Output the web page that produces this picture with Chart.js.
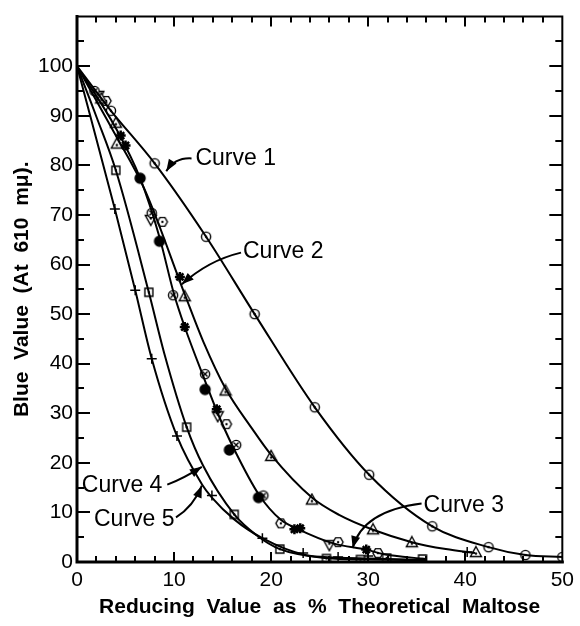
<!doctype html>
<html>

<head>
    <title>Blue Value</title>
    <script src="https://cdn.jsdelivr.net/npm/chart.js"></script>
    <style>
        body { margin: 0; background: #fff; }
    </style>
</head>

<body>
    <canvas id="grafico" width="580" height="626"></canvas>

    <script>
        // smooth curves: [reducing value %, blue value]
        const curve1Line = [[0, 100], [3.5, 91], [8, 80.4], [13.3, 65.6], [18.3, 50], [24.5, 31.2], [30.1, 17.6], [36.6, 7.2], [42.4, 3], [46.2, 1.4], [50, 1]]
        const curve2Line = [[0, 100], [4, 86], [7, 75], [11.1, 54], [13, 44.5], [15.3, 35], [18, 27], [20, 21.6], [24.2, 13], [27, 9.5], [30.5, 6.5], [34.5, 4], [38, 2.6], [41, 1.8]]
        const curve3Line = [[0, 100], [4, 87.5], [6.5, 77.4], [8.5, 65.5], [10, 54], [11.1, 47.4], [13.2, 36.5], [14.5, 30], [16, 23.5], [18.8, 13.4], [21, 8.5], [22.6, 6.8], [26.5, 3.7], [29.8, 2.5], [31.5, 1.6], [36, 0.6]]
        const curve4Line = [[0, 100], [2, 89.8], [4, 79], [7.4, 54.4], [9, 42], [11.3, 27.2], [13, 19.4], [16.2, 9.6], [18.5, 5.4], [20.9, 2.6], [25.7, 0.8], [30, 0.5], [36, 0.4]]
        const curve5Line = [[0, 100], [3.9, 71.2], [6, 54.8], [7.7, 41], [10.3, 25.4], [12.9, 15.6], [13.9, 13], [16.2, 8.6], [19.1, 4.8], [23.5, 1.4], [26.7, 0.9], [30, 0.7], [36, 0.4]]

        // plotted samples, grouped by marker
        const dotCirclePts = [[3.5, 91], [8, 80.4], [13.3, 65.6], [18.3, 50], [24.5, 31.2], [30.1, 17.6], [36.6, 7.2], [42.4, 3], [46.2, 1.4], [50, 1]]
        const trianglePts = [[2.5, 93.5], [4, 88.6], [4.1, 84.4], [11.1, 53.6], [15.3, 34.6], [20, 21.4], [24.2, 12.6], [30.5, 6.6], [34.5, 4], [41.1, 2]]
        const filledPts = [[6.5, 77.4], [8.5, 64.7], [13.2, 34.8], [15.7, 22.6], [18.7, 13]]
        const crossCirclePts = [[1.8, 95], [7.7, 70.4], [9.9, 53.8], [13.2, 37.9], [16.4, 23.6], [19.2, 13.4]]
        const hexagonPts = [[3, 93], [8.8, 68.6], [15.4, 27.8], [21, 7.8], [26.9, 4], [31, 1.8]]
        const starPts = [[4.5, 86], [5, 84], [10.6, 57.5], [11.1, 47.4], [14.4, 30.8], [22.4, 6.6], [23, 6.8], [29.8, 2.5]]
        const invTrianglePts = [[2.2, 94], [7.6, 69], [14.5, 29.4], [26, 3.4]]
        const squarePts = [[4, 79], [7.4, 54.4], [11.3, 27.2], [16.2, 9.6], [20.9, 2.6], [25.7, 0.7], [29.2, 0.5], [31.9, 0.8], [35.6, 0.6]]
        const plusPts = [[3.9, 71.2], [6, 54.8], [7.7, 41], [10.3, 25.4], [13.9, 13.4], [19.1, 4.8], [23.3, 1.8], [26.9, 1], [30, 1.2], [40.2, 2]]

        // curve labels and their arrows, in data units
        const curveNames = ['Curve 1', 'Curve 2', 'Curve 3', 'Curve 4', 'Curve 5']
        const nameAt = [[12.2, 81.4], [17.1, 62.6], [35.7, 11.4], [0.5, 15.4], [1.75, 8.6]]
        const arrowFrom = [[11.8, 81.4], [16.9, 62.4], [35.5, 11.8], [9.3, 15.6], [10.2, 9]]
        const arrowBend = [[10.1, 81.6], [13.5, 60.8], [29.4, 10.3], [11.1, 17], [12, 11.2]]
        const arrowTip = [[9.2, 78.8], [10.8, 56], [28.4, 2.8], [12.86, 19.2], [12.86, 15.4]]

        const fonte = '"Liberation Sans", Arial, sans-serif'

        function pontos(lista) {
            return lista.map(p => ({ x: p[0], y: p[1] }))
        }

        function marcador(tipo) {
            const c = document.createElement('canvas')
            c.width = 14
            c.height = 14
            const g = c.getContext('2d')
            g.lineWidth = 1.4
            g.strokeStyle = '#000'
            g.fillStyle = '#fff'
            g.beginPath()
            if (tipo == 'circulo' || tipo == 'cruz') {
                g.arc(7, 7, 4.6, 0, 2 * Math.PI)
            } else if (tipo == 'cheio') {
                g.fillStyle = '#000'
                g.arc(7, 7, 5, 0, 2 * Math.PI)
            } else if (tipo == 'quadrado') {
                g.rect(3, 3, 8, 8)
            } else if (tipo == 'hexagono') {
                for (let i = 0; i < 6; i++) {
                    const a = Math.PI / 3 * i
                    g.lineTo(7 + 5 * Math.cos(a), 7 + 5 * Math.sin(a))
                }
                g.closePath()
            } else if (tipo == 'triangulo') {
                g.moveTo(7, 1.5); g.lineTo(12.5, 11.5); g.lineTo(1.5, 11.5); g.closePath()
            } else if (tipo == 'invertido') {
                g.moveTo(7, 12.5); g.lineTo(12.5, 2.5); g.lineTo(1.5, 2.5); g.closePath()
            }
            g.fill()
            g.stroke()
            if (tipo == 'cruz') {
                g.beginPath()
                g.moveTo(4.5, 4.5); g.lineTo(9.5, 9.5); g.moveTo(9.5, 4.5); g.lineTo(4.5, 9.5)
                g.stroke()
            } else if (tipo != 'cheio') {
                g.fillStyle = '#000'
                g.beginPath()
                g.arc(7, tipo == 'triangulo' ? 8.5 : (tipo == 'invertido' ? 5.5 : 7), 1.2, 0, 2 * Math.PI)
                g.fill()
            }
            return c
        }

        function curva(lista) {
            return {
                data: pontos(lista),
                showLine: true,
                borderColor: '#000',
                borderWidth: 2,
                pointRadius: 0,
                cubicInterpolationMode: 'monotone'
            }
        }

        function amostras(lista, estilo, extra) {
            return Object.assign({
                data: pontos(lista),
                showLine: false,
                pointStyle: estilo,
                borderColor: '#000',
                backgroundColor: '#fff',
                pointRadius: 5
            }, extra || {})
        }

        const moldura = {
            id: 'moldura',
            afterDatasetsDraw(chart) {
                const { ctx, chartArea: { left, right, top, bottom }, scales: { x, y } } = chart
                ctx.save()
                ctx.strokeStyle = '#000'
                ctx.lineCap = 'square'

                ctx.lineWidth = 2
                ctx.beginPath()
                ctx.moveTo(left, top); ctx.lineTo(right, top); ctx.lineTo(right, bottom)
                ctx.stroke()
                ctx.lineWidth = 3
                ctx.beginPath()
                ctx.moveTo(left, top); ctx.lineTo(left, bottom); ctx.lineTo(right, bottom)
                ctx.stroke()

                ctx.lineWidth = 2
                ctx.lineCap = 'butt'
                ctx.beginPath()
                for (let v = 2; v < 50; v += 2) {
                    const px = Math.round(x.getPixelForValue(v))
                    const len = v % 10 == 0 ? 10 : 6
                    ctx.moveTo(px, bottom); ctx.lineTo(px, bottom - len)
                    ctx.moveTo(px, top); ctx.lineTo(px, top + len)
                }
                for (let v = 5; v < 110; v += 5) {
                    const py = Math.round(y.getPixelForValue(v))
                    const len = v % 10 == 0 ? 13 : 7
                    ctx.moveTo(left, py); ctx.lineTo(left + len, py)
                    ctx.moveTo(right, py); ctx.lineTo(right - len, py)
                }
                ctx.stroke()
                ctx.restore()
            }
        }

        const rotulos = {
            id: 'rotulos',
            afterDatasetsDraw(chart) {
                const { ctx, scales: { x, y } } = chart
                const px = p => [x.getPixelForValue(p[0]), y.getPixelForValue(p[1])]
                ctx.save()
                ctx.fillStyle = '#000'
                ctx.strokeStyle = '#000'
                ctx.font = '23px ' + fonte
                ctx.textBaseline = 'middle'
                curveNames.forEach((nome, i) => {
                    const [tx, ty] = px(nameAt[i])
                    ctx.fillText(nome, tx, ty)

                    const [ax, ay] = px(arrowFrom[i])
                    const [bx, by] = px(arrowBend[i])
                    const [cx, cy] = px(arrowTip[i])
                    ctx.lineWidth = 2
                    ctx.beginPath()
                    ctx.moveTo(ax, ay)
                    ctx.quadraticCurveTo(bx, by, cx, cy)
                    ctx.stroke()

                    const ang = Math.atan2(cy - by, cx - bx)
                    ctx.beginPath()
                    ctx.moveTo(cx, cy)
                    ctx.lineTo(cx - 12 * Math.cos(ang) + 4.5 * Math.sin(ang), cy - 12 * Math.sin(ang) - 4.5 * Math.cos(ang))
                    ctx.lineTo(cx - 12 * Math.cos(ang) - 4.5 * Math.sin(ang), cy - 12 * Math.sin(ang) + 4.5 * Math.cos(ang))
                    ctx.closePath()
                    ctx.fill()
                })
                ctx.restore()
            }
        }

        const grafico = new Chart(document.getElementById('grafico').getContext('2d'), {
            type: 'scatter',
            data: {
                datasets: [
                    curva(curve1Line),
                    curva(curve2Line),
                    curva(curve3Line),
                    curva(curve4Line),
                    curva(curve5Line),
                    amostras(dotCirclePts, marcador('circulo')),
                    amostras(trianglePts, marcador('triangulo')),
                    amostras(filledPts, marcador('cheio')),
                    amostras(crossCirclePts, marcador('cruz')),
                    amostras(hexagonPts, marcador('hexagono')),
                    amostras(starPts, 'star', { borderWidth: 2.5, pointRadius: 5 }),
                    amostras(invTrianglePts, marcador('invertido')),
                    amostras(squarePts, marcador('quadrado')),
                    amostras(plusPts, 'cross', { borderWidth: 1.5, pointRadius: 5 })
                ]
            },
            options: {
                responsive: false,
                animation: false,
                events: [],
                layout: { padding: { top: 14, right: 17 } },
                plugins: {
                    legend: { display: false },
                    tooltip: { enabled: false }
                },
                scales: {
                    x: {
                        type: 'linear',
                        min: 0,
                        max: 50,
                        grid: { display: false, drawTicks: false },
                        border: { display: false },
                        ticks: {
                            stepSize: 10,
                            color: '#000',
                            padding: 6,
                            maxRotation: 0,
                            font: { family: fonte, size: 21 }
                        },
                        title: {
                            display: true,
                            text: 'Reducing  Value  as  %  Theoretical  Maltose',
                            color: '#000',
                            padding: { top: 0, bottom: 6 },
                            font: { family: fonte, size: 21, weight: 'bold' }
                        },
                        afterFit(scale) { scale.height = 64 }
                    },
                    y: {
                        type: 'linear',
                        min: 0,
                        max: 110,
                        grid: { display: false, drawTicks: false },
                        border: { display: false },
                        ticks: {
                            stepSize: 10,
                            color: '#000',
                            padding: 4,
                            font: { family: fonte, size: 21 },
                            callback: v => v > 100 ? null : v
                        },
                        title: {
                            display: true,
                            text: 'Blue  Value  (At  610  mμ).',
                            color: '#000',
                            padding: { top: 10, bottom: 0 },
                            font: { family: fonte, size: 21, weight: 'bold' }
                        },
                        afterFit(scale) { scale.width = 77 }
                    }
                }
            },
            plugins: [moldura, rotulos]
        });
    </script>
</body>

</html>
